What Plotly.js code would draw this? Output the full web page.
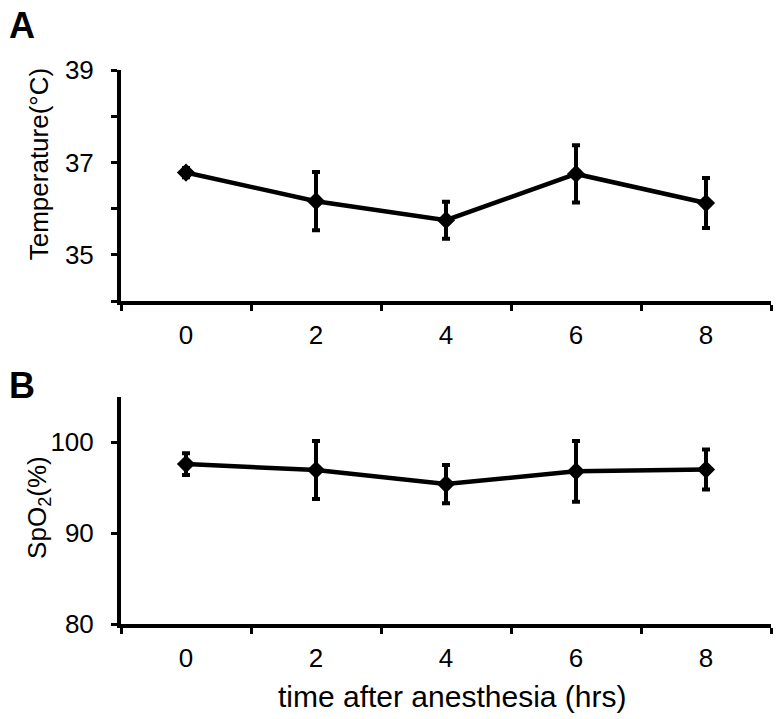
<!DOCTYPE html>
<html>
<head>
<meta charset="utf-8">
<script src="https://cdn.plot.ly/plotly-3.0.1.min.js"></script>
<style>
  html, body { margin: 0; padding: 0; background: #fff; }
  #chart { width: 781px; height: 719px; }
</style>
</head>
<body>
<div id="chart"></div>
<script>
// hours after anesthesia (category labels)
const hours = ['0', '2', '4', '6', '8'];

// panel A: body temperature (°C), mean and error
const tempMean = [36.78, 36.16, 35.75, 36.75, 36.12];
const tempErr = [0.1, 0.63, 0.4, 0.62, 0.54];

// panel B: SpO2 (%), mean and error
const spo2Mean = [97.6, 96.95, 95.4, 96.8, 97.0];
const spo2Err = [1.2, 3.2, 2.1, 3.35, 2.2];

// y ticks
const tempTicks = [35, 37, 39];
const tempMinorTicks = [34, 36, 38];
const spo2Ticks = [80, 90, 100];

const FONT = 'Arial, "Liberation Sans", sans-serif';

function series(y, err, xa, ya) {
    return {
        x: hours,
        y: y,
        xaxis: xa,
        yaxis: ya,
        type: 'scatter',
        mode: 'lines+markers',
        line: { color: '#000', width: 4.5 },
        marker: { symbol: 'diamond', size: 14, color: '#000' },
        error_y: { type: 'data', array: err, visible: true, color: '#000', thickness: 4, width: 4 },
        showlegend: false,
        cliponaxis: false
    };
}

const xBase = {
    type: 'category',
    range: [-0.5, 4.5],
    tickson: 'boundaries',
    ticks: 'outside',
    ticklen: 6,
    tickwidth: 3,
    tickcolor: '#000',
    showline: true,
    linewidth: 4,
    linecolor: '#000',
    showgrid: false,
    zeroline: false,
    ticklabelstandoff: 8,
    tickfont: { family: FONT, size: 26, color: '#000' }
};

const yBase = {
    ticks: 'outside',
    ticklen: 6,
    tickwidth: 3,
    tickcolor: '#000',
    showline: true,
    linewidth: 4,
    linecolor: '#000',
    showgrid: false,
    zeroline: false,
    ticklabelstandoff: 12,
    tickfont: { family: FONT, size: 26, color: '#000' }
};

const layout = {
    width: 781,
    height: 719,
    margin: { l: 121, r: 10, t: 70, b: 95 },
    paper_bgcolor: '#fff',
    plot_bgcolor: '#fff',
    showlegend: false,
    xaxis: Object.assign({}, xBase, { domain: [0, 1], anchor: 'y' }),
    yaxis: Object.assign({}, yBase, {
        domain: [0.583, 1], anchor: 'x',
        range: [34, 39], tickmode: 'array', tickvals: tempTicks,
        minor: { tickmode: 'array', tickvals: tempMinorTicks, ticks: 'outside', ticklen: 6, tickwidth: 3, tickcolor: '#000', showgrid: false }
    }),
    xaxis2: Object.assign({}, xBase, { domain: [0, 1], anchor: 'y2' }),
    yaxis2: Object.assign({}, yBase, {
        domain: [0, 0.41], anchor: 'x2',
        range: [80, 105], tickmode: 'array', tickvals: spo2Ticks
    }),
    annotations: [
        { text: '<b>A</b>', xref: 'paper', yref: 'paper', x: -0.153, y: 1.081,
          xanchor: 'center', yanchor: 'middle', showarrow: false,
          font: { family: FONT, size: 36, color: '#000' } },
        { text: '<b>B</b>', xref: 'paper', yref: 'paper', x: -0.153, y: 0.431,
          xanchor: 'center', yanchor: 'middle', showarrow: false,
          font: { family: FONT, size: 36, color: '#000' } },
        { text: 'Temperature(°C)', xref: 'paper', yref: 'paper', x: -0.126, y: 0.83,
          xanchor: 'center', yanchor: 'middle', textangle: -90, showarrow: false,
          font: { family: FONT, size: 26, color: '#000' } },
        { text: 'SpO<sub>2</sub>(%)', xref: 'paper', yref: 'paper', x: -0.128, y: 0.211,
          xanchor: 'center', yanchor: 'middle', textangle: -90, showarrow: false,
          font: { family: FONT, size: 26, color: '#000' } },
        { text: 'time after anesthesia (hrs)', xref: 'paper', yref: 'paper', x: 0.509, y: -0.13,
          xanchor: 'center', yanchor: 'middle', showarrow: false,
          font: { family: FONT, size: 30, color: '#000' } }
    ]
};

Plotly.newPlot('chart', [
    series(tempMean, tempErr, 'x', 'y'),
    series(spo2Mean, spo2Err, 'x2', 'y2')
], layout, { displayModeBar: false, staticPlot: true });
</script>
</body>
</html>
